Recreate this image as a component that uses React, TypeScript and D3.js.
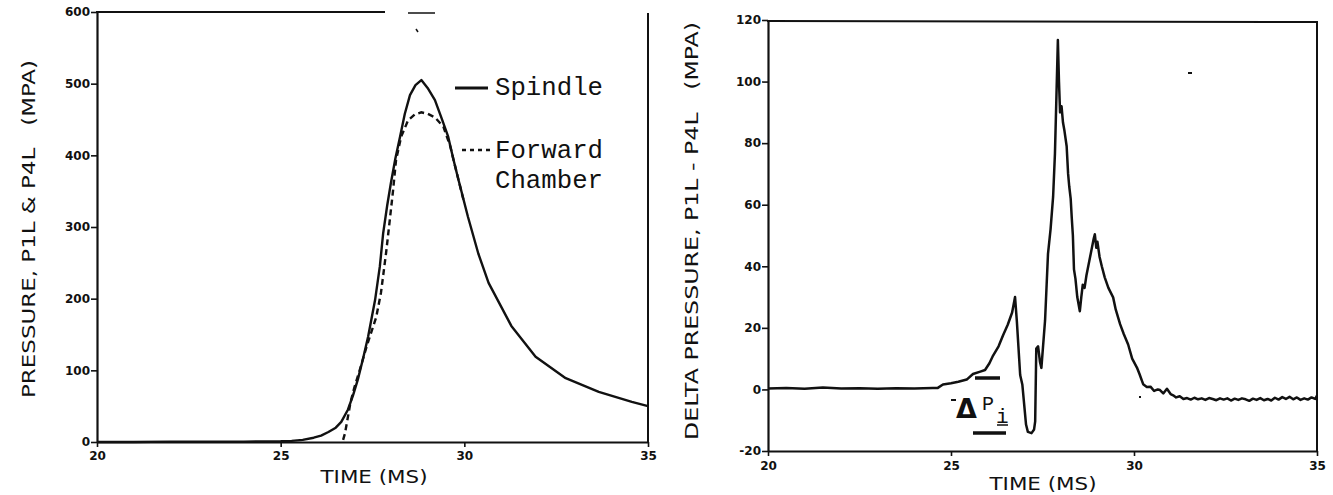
import React, { useEffect, useRef } from "react";
import * as d3 from "d3";

// ---- Left panel data: pressure (MPa) vs time (ms)
const spindleT = [20, 21, 22, 23, 24, 25, 25.3, 25.6, 25.9, 26.1, 26.3, 26.5, 26.65, 26.83, 26.97, 27.1, 27.25, 27.38, 27.57, 27.7, 27.79, 27.9, 28.0, 28.12, 28.25, 28.38, 28.52, 28.67, 28.83, 29.0, 29.2, 29.38, 29.56, 29.7, 29.84, 30.1, 30.38, 30.66, 31.28, 31.94, 32.76, 33.66, 34.56, 35];
const spindleP = [0, 0, 0.5, 0.5, 0.5, 1, 1.5, 3, 6, 9, 14, 20, 28, 45, 65, 87, 118, 147, 198, 245, 291, 330, 361, 395, 426, 458, 484, 498, 505, 494, 477, 452, 426, 395, 366, 314, 263, 222, 162, 119, 89, 70, 56, 50];
const forwardT = [26.7, 26.75, 26.8, 26.9, 27.0, 27.15, 27.35, 27.6, 27.73, 27.87, 27.98, 28.06, 28.14, 28.28, 28.47, 28.65, 28.83, 29.0, 29.2, 29.43, 29.62, 29.7, 29.84, 30.0];
const forwardP = [3, 12, 26, 55, 75, 100, 135, 174, 208, 264, 314, 351, 393, 426, 449, 457, 460, 458, 453, 440, 412, 395, 366, 333];

// ---- Right panel data: delta pressure (MPa) vs time (ms)
const deltaT = [20.0, 20.5, 21.0, 21.5, 22.0, 22.5, 23.0, 23.5, 24.0, 24.5, 24.64, 24.78, 25.0, 25.2, 25.43, 25.6, 25.8, 25.93, 26.05, 26.15, 26.3, 26.42, 26.55, 26.67, 26.75, 26.8, 26.89, 26.95, 27.05, 27.1, 27.2, 27.27, 27.3, 27.33, 27.38, 27.43, 27.47, 27.57, 27.65, 27.72, 27.79, 27.84, 27.88, 27.92, 27.95, 27.98, 28.02, 28.06, 28.1, 28.16, 28.2, 28.23, 28.27, 28.3, 28.33, 28.36, 28.4, 28.45, 28.52, 28.56, 28.6, 28.65, 28.7, 28.75, 28.8, 28.85, 28.9, 28.93, 28.97, 29.0, 29.06, 29.12, 29.2, 29.3, 29.43, 29.5, 29.62, 29.72, 29.84, 29.95, 30.08, 30.15, 30.25, 30.35, 30.45, 30.55, 30.65, 30.71, 30.8, 30.9, 31.0, 31.07, 31.15, 31.25, 31.35, 31.45, 31.55, 31.65, 31.75, 31.85, 31.95, 32.05, 32.15, 32.25, 32.35, 32.45, 32.55, 32.65, 32.75, 32.85, 32.95, 33.05, 33.15, 33.25, 33.35, 33.45, 33.55, 33.65, 33.75, 33.85, 33.95, 34.05, 34.15, 34.25, 34.35, 34.45, 34.55, 34.65, 34.75, 34.85, 34.95, 35.0];
const deltaP = [0.3, 0.5, 0.2, 0.6, 0.3, 0.4, 0.2, 0.4, 0.3, 0.5, 0.5, 1.6, 2.0, 2.5, 3.2, 5, 5.8, 6.3, 8.5, 11, 14, 17.5, 21, 25, 30, 22, 4.7, 1.5, -11.4, -13.8, -14.2, -13, -10.4, 13.3, 14, 9, 7, 22.4, 44, 52, 62.6, 76.6, 95, 113.5, 100, 90, 92, 86.7, 84, 79, 70, 66, 62, 55.6, 50, 39, 36, 30, 25.4, 30, 34, 33, 37, 40, 43, 46, 49, 50.4, 46, 48, 43, 40, 36.4, 33, 29.9, 26, 21.2, 18, 14.6, 10, 7.1, 5, 1.7, 0.8, 0.9, -0.5, 0, -0.2, -1.3, 0.2, -1.5, -1.9, -2.6, -2.2, -3.1, -2.8, -3.3, -2.7, -3.2, -2.9, -3.4, -2.8, -3.1, -3.5, -2.9, -3.3, -2.9, -3.6, -3.0, -3.4, -2.9, -3.2, -3.7, -3.0, -3.4, -2.8, -3.5, -3.1, -3.6, -2.7, -3.3, -2.5, -3.1, -2.4, -3.2, -2.6, -3.4, -2.9, -3.3, -2.6, -3.1, -2.0];

// ---- Ticks and labels
const timeTicks = [20, 25, 30, 35];
const pressureTicks = [0, 100, 200, 300, 400, 500, 600];
const deltaTicks = [-20, 0, 20, 40, 60, 80, 100, 120];
const leftYTitle = "PRESSURE, P1L & P4L\u00a0\u00a0\u00a0(MPA)";
const rightYTitle = "DELTA PRESSURE, P1L - P4L\u00a0\u00a0\u00a0(MPA)";
const xTitle = "TIME (MS)";
const legendLabels = ["Spindle", "Forward", "Chamber"];

const W = 1333;
const H = 495;

export default function App() {
  const ref = useRef<SVGSVGElement | null>(null);

  useEffect(() => {
    const svg = d3.select(ref.current);
    svg.selectAll("*").remove();

    const tickFont = "'DejaVu Sans', sans-serif";
    const titleFont = "'DejaVu Sans', sans-serif";
    const legFont = "'Liberation Mono', 'DejaVu Sans Mono', monospace";
    const ink = "#111";
    const fmt = (d: any) => String(d).replace("\u2212", "-");

    const mk = (T: number[], V: number[], xs: any, ys: any) =>
      d3.line<number>().x((_, i) => xs(T[i])).y((_, i) => ys(V[i])).curve(d3.curveLinear)(T) as string;

    const styleAxis = (a: any) => {
      a.select(".domain").attr("stroke", ink).attr("stroke-width", 2.2);
      a.selectAll(".tick line").attr("stroke", ink).attr("stroke-width", 1.6);
      a.selectAll(".tick text").attr("fill", ink).attr("font-family", tickFont)
        .attr("font-weight", "bold").attr("font-size", 12);
    };

    // ----- LEFT PANEL -----
    const xL = d3.scaleLinear().domain([20, 35]).range([97, 648]);
    const yL = d3.scaleLinear().domain([0, 600]).range([442, 12]);

    const gL = svg.append("g");
    const axL = gL.append("g").attr("transform", `translate(${xL.range()[0]},0)`)
      .call(d3.axisLeft(yL).tickValues(pressureTicks).tickSize(6).tickSizeOuter(0).tickFormat(fmt));
    const axLB = gL.append("g").attr("transform", `translate(0,${yL(0)})`)
      .call(d3.axisBottom(xL).tickValues(timeTicks).tickSize(5).tickSizeOuter(0).tickFormat(fmt));
    styleAxis(axL);
    styleAxis(axLB);
    axL.selectAll(".tick text").attr("x", -7);
    axLB.selectAll(".tick text").attr("y", 9);

    // frame (partial top border as in scan, right border)
    gL.append("line").attr("x1", 96).attr("x2", 385).attr("y1", yL(600)).attr("y2", yL(600)).attr("stroke", ink).attr("stroke-width", 2);
    gL.append("line").attr("x1", 408).attr("x2", 435).attr("y1", yL(600) + 1).attr("y2", yL(600) + 1).attr("stroke", ink).attr("stroke-width", 1.5);
    gL.append("line").attr("x1", 416).attr("x2", 418).attr("y1", 29).attr("y2", 32).attr("stroke", ink).attr("stroke-width", 1.5);
    gL.append("line").attr("x1", xL(35)).attr("x2", xL(35)).attr("y1", 13).attr("y2", yL(0)).attr("stroke", ink).attr("stroke-width", 2);

    gL.append("path").attr("d", mk(spindleT, spindleP, xL, yL))
      .attr("fill", "none").attr("stroke", ink).attr("stroke-width", 2.4).attr("stroke-linejoin", "round");
    gL.append("path").attr("d", mk(forwardT, forwardP, xL, yL))
      .attr("fill", "none").attr("stroke", ink).attr("stroke-width", 2.4).attr("stroke-dasharray", "6,4");

    // legend
    gL.append("line").attr("x1", 455).attr("x2", 488).attr("y1", 88).attr("y2", 88).attr("stroke", ink).attr("stroke-width", 3);
    gL.append("line").attr("x1", 462).attr("x2", 494).attr("y1", 150).attr("y2", 150).attr("stroke", ink).attr("stroke-width", 2.4).attr("stroke-dasharray", "4,4");
    const legPos = [[495, 95], [495, 158], [495, 188]];
    legendLabels.forEach((s, i) => {
      gL.append("text").attr("x", legPos[i][0]).attr("y", legPos[i][1]).text(s)
        .attr("font-family", legFont).attr("font-size", 25).attr("fill", ink)
        .attr("textLength", 108).attr("lengthAdjust", "spacingAndGlyphs");
    });

    // titles
    gL.append("text").text(leftYTitle)
      .attr("transform", `translate(35,229) rotate(-90)`).attr("text-anchor", "middle")
      .attr("font-family", titleFont).attr("font-size", 17).attr("fill", ink)
      .attr("textLength", 338).attr("lengthAdjust", "spacingAndGlyphs");
    gL.append("text").text(xTitle).attr("x", 374).attr("y", 483).attr("text-anchor", "middle")
      .attr("font-family", titleFont).attr("font-size", 17).attr("fill", ink)
      .attr("textLength", 107).attr("lengthAdjust", "spacingAndGlyphs");

    // ----- RIGHT PANEL -----
    const xR = d3.scaleLinear().domain([20, 35]).range([768, 1317]);
    const yR = d3.scaleLinear().domain([-20, 120]).range([451, 20]);
    const gR = svg.append("g");
    const axR = gR.append("g").attr("transform", `translate(${xR.range()[0]},0)`)
      .call(d3.axisLeft(yR).tickValues(deltaTicks).tickSize(6).tickSizeOuter(0).tickFormat(fmt));
    const axRB = gR.append("g").attr("transform", `translate(0,${yR(-20)})`)
      .call(d3.axisBottom(xR).tickValues(timeTicks).tickSize(5).tickSizeOuter(0).tickFormat(fmt));
    styleAxis(axR);
    styleAxis(axRB);
    axR.selectAll(".tick text").attr("x", -7);
    axRB.selectAll(".tick text").attr("y", 10);

    gR.append("line").attr("x1", 767).attr("x2", 1318).attr("y1", 21).attr("y2", 22).attr("stroke", ink).attr("stroke-width", 2);
    gR.append("line").attr("x1", 1317).attr("x2", 1317).attr("y1", 21).attr("y2", 451).attr("stroke", ink).attr("stroke-width", 2);

    gR.append("path").attr("d", mk(deltaT, deltaP, xR, yR))
      .attr("fill", "none").attr("stroke", ink).attr("stroke-width", 2.5).attr("stroke-linejoin", "round");

    // scan specks
    gR.append("rect").attr("x", 1188).attr("y", 72).attr("width", 4).attr("height", 2).attr("fill", ink);
    gR.append("rect").attr("x", 1139).attr("y", 396).attr("width", 2).attr("height", 2).attr("fill", ink);

    // delta P_i annotation
    gR.append("line").attr("x1", 975).attr("x2", 1000).attr("y1", 378).attr("y2", 378).attr("stroke", ink).attr("stroke-width", 3.5);
    gR.append("line").attr("x1", 973).attr("x2", 1006).attr("y1", 433).attr("y2", 433).attr("stroke", ink).attr("stroke-width", 3.5);
    gR.append("line").attr("x1", 951).attr("x2", 956).attr("y1", 400).attr("y2", 400).attr("stroke", ink).attr("stroke-width", 2);
    gR.append("text").text("Δ").attr("x", 956).attr("y", 418)
      .attr("font-family", "'DejaVu Sans', sans-serif").attr("font-weight", "bold").attr("font-size", 27).attr("fill", ink);
    gR.append("text").text("P").attr("x", 982).attr("y", 410)
      .attr("font-family", legFont).attr("font-size", 20).attr("fill", ink);
    gR.append("text").text("i").attr("x", 996).attr("y", 423)
      .attr("font-family", legFont).attr("font-size", 21).attr("fill", ink);
    gR.append("line").attr("x1", 997).attr("x2", 1008).attr("y1", 425).attr("y2", 425).attr("stroke", ink).attr("stroke-width", 1.5);

    gR.append("text").text(rightYTitle)
      .attr("transform", `translate(698,231) rotate(-90)`).attr("text-anchor", "middle")
      .attr("font-family", titleFont).attr("font-size", 17).attr("fill", ink)
      .attr("textLength", 418).attr("lengthAdjust", "spacingAndGlyphs");
    gR.append("text").text(xTitle).attr("x", 1043).attr("y", 490).attr("text-anchor", "middle")
      .attr("font-family", titleFont).attr("font-size", 17).attr("fill", ink)
      .attr("textLength", 107).attr("lengthAdjust", "spacingAndGlyphs");
  }, []);

  return (
    <svg
      ref={ref}
      width={W}
      height={H}
      viewBox={`0 0 ${W} ${H}`}
      style={{ position: "absolute", left: 0, top: 0, background: "#fff" }}
    />
  );
}
